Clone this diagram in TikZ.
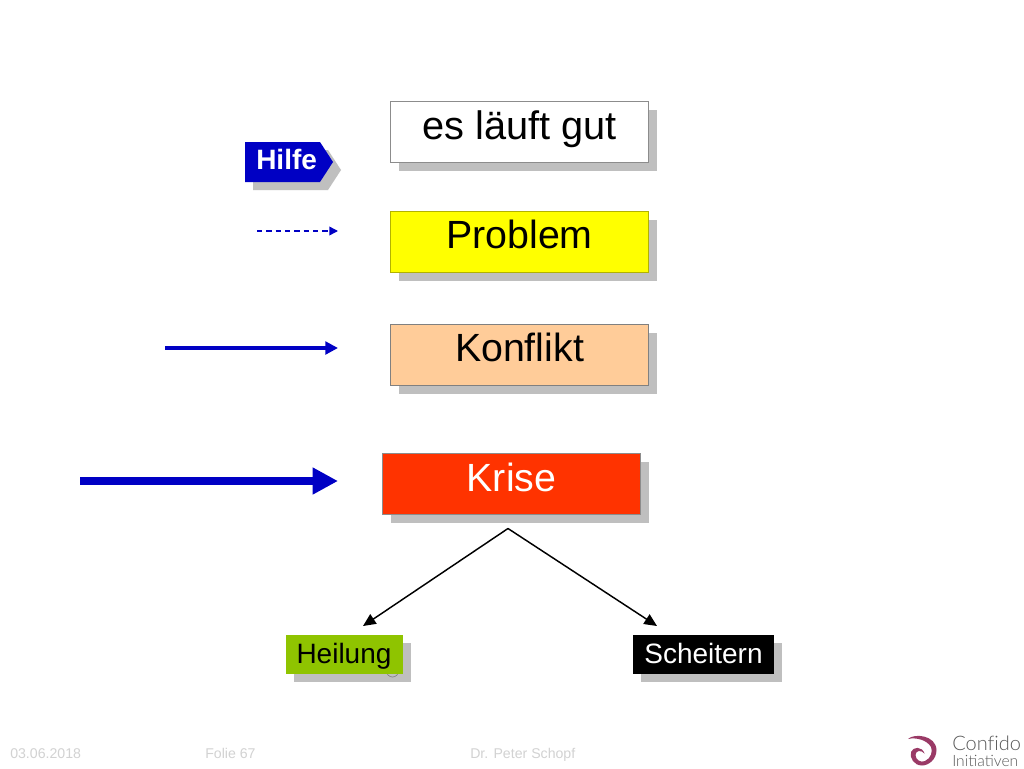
\documentclass[tikz,border=0pt]{standalone}
\usepackage{fontspec}
\setmainfont{Liberation Sans}
\newfontfamily\logofont{Lato Light}
\usetikzlibrary{arrows.meta}
\definecolor{shadowgray}{HTML}{BFBFBF}
\definecolor{hblue}{HTML}{0000C4}
\definecolor{footgray}{HTML}{D2D2D2}
\definecolor{plum}{HTML}{9A3A66}
\definecolor{pureyellow}{HTML}{FFFF00}
\definecolor{peach}{HTML}{FFCC99}
\definecolor{redorange}{HTML}{FF3300}
\definecolor{leaf}{HTML}{8FC400}
\tikzset{
  x=0.75pt,y=-0.75pt,
  bigbox/.style={draw=#1,line width=0.6pt,inner sep=0pt,minimum width=193.5pt,
     text height=28.4pt,text depth=17.35pt,font=\fontsize{29.5}{29.5}\selectfont},
  smallbox/.style={inner sep=0pt,text height=21pt,text depth=8.25pt,font=\fontsize{21}{21}\selectfont},
  foot/.style={text=footgray,font=\fontsize{10.6}{12}\selectfont,inner sep=0pt,anchor=base west},
  thinarrow/.style={draw=black,line width=1.1pt,-{Triangle[length=9.5pt,width=8.5pt]}},
}
\begin{document}
\begin{tikzpicture}
\useasboundingbox (0,0) rectangle (1024,768);
\fill[white] (0,0) rectangle (1024,768);
% shadows
\fill[shadowgray] (399,110) rectangle (657,170.5);
\fill[shadowgray] (399,219.5) rectangle (657,280.5);
\fill[shadowgray] (399,332.5) rectangle (657,393.5);
\fill[shadowgray] (391,462) rectangle (649,522.5);
\fill[shadowgray] (294,643) rectangle (411,682);
\fill[shadowgray] (641,643) rectangle (782,682);
\fill[shadowgray] (253,150) -- (328,150) -- (341,170) -- (328,190) -- (253,190) -- cycle;
\draw[black!50,line width=0.5pt] (386.5,671) arc[start angle=180,end angle=0,radius=6];
% boxes
\node[bigbox={black!45},fill=white,font=\fontsize{29.8}{30}\selectfont] (gut) at (519.5,131.75) {es läuft gut};
\node[bigbox={pureyellow!70!black},fill=pureyellow] (problem) at (519.5,241.5) {Problem};
\node[bigbox={black!50},fill=peach] (konflikt) at (519.5,354.5) {Konflikt};
\node[bigbox={black!45},fill=redorange,text=white] (krise) at (511.5,484) {Krise};
\node[smallbox,fill=leaf,minimum width=87.75pt] (heilung) at (344,654.5) {Heilung};
\node[smallbox,fill=black,text=white,minimum width=105.75pt] (scheitern) at (703.5,654.5) {Scheitern};
% Hilfe tag
\fill[hblue] (245,142) -- (320,142) -- (333,162) -- (320,182) -- (245,182) -- cycle;
\node[inner sep=0pt,text=white,font=\bfseries\fontsize{21}{21}\selectfont,anchor=base west] (hilfe) at (256,169) {Hilfe};
% left arrows
\coordinate (d0) at (257,231);
\coordinate (d1) at (338,231);
\coordinate (m0) at (165,348);
\coordinate (m1) at (338,348);
\coordinate (k0) at (80,481);
\coordinate (k1) at (338,481);
\draw[hblue,line width=1.1pt,dash pattern=on 4pt off 3pt,-{Triangle[length=6.5pt,width=6.5pt]}] (d0) -- (d1);
\draw[hblue,line width=3pt,-{Triangle[length=9.5pt,width=9.5pt]}] (m0) -- (m1);
\draw[hblue,line width=6.5pt,-{Triangle[length=19pt,width=19pt]}] (k0) -- (k1);
% fork
\coordinate (apex) at (508,528.5);
\coordinate (hend) at (363,626);
\coordinate (send) at (657,626);
\draw[thinarrow] (apex) -- (hend);
\draw[thinarrow] (apex) -- (send);
% footer
\node[foot] (date) at (10,758.5) {03.06.2018};
\node[foot] (folie) at (205,758.5) {Folie 67};
\node[foot] (author) at (470,758.5) {Dr. Peter Schopf};
% logo
\fill[plum,even odd rule] (908,739) .. controls (914,733) and (936,735) .. (936.5,750)
   .. controls (936.5,760) and (928,765.5) .. (922,765.5)
   .. controls (914,765.5) and (909.5,758) .. (911,752)
   .. controls (913,746.5) and (922,746) .. (924.5,753.5)
   .. controls (921,749.5) and (915.5,750.5) .. (915.5,755)
   .. controls (915.5,760) and (921,763) .. (925,761)
   .. controls (931,758.5) and (933,751) .. (931,747)
   .. controls (927,740) and (916,737) .. (908,739) -- cycle;
\node[inner sep=0pt,anchor=base west,text=black!65,font=\logofont\fontsize{15}{15}\selectfont] (confido) at (952,750) {Conf\kern0ptido};
\node[inner sep=0pt,anchor=base west,text=black!65,font=\logofont\fontsize{11.7}{12}\selectfont] (init) at (952,766) {Initiativen};
\end{tikzpicture}
\end{document}
